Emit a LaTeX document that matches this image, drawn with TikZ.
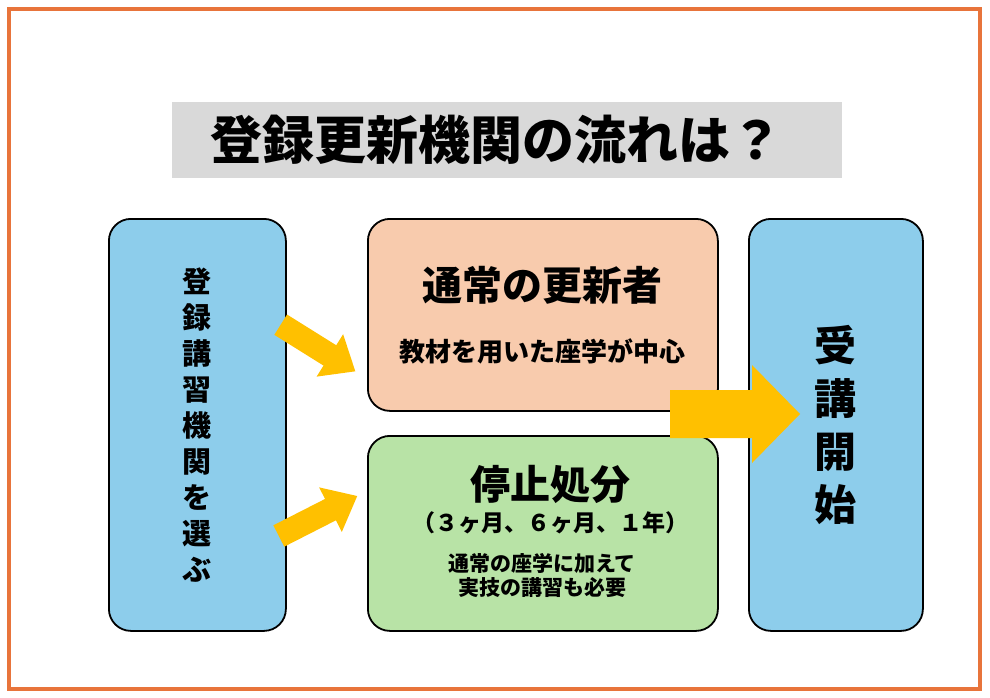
\documentclass[tikz,border=0pt]{standalone}
\usepackage{fontspec}
\setmainfont{Noto Sans CJK JP}
\definecolor{frame}{HTML}{E8743B}
\definecolor{sky}{HTML}{8DCDEB}
\definecolor{salmon}{HTML}{F8CBAD}
\definecolor{leaf}{HTML}{B8E3A6}
\definecolor{gold}{HTML}{FFC000}
\definecolor{titlebg}{HTML}{D9D9D9}
\tikzset{
  box/.style={draw=black, line width=1.8pt, rounded corners=22pt, anchor=north west, inner sep=0pt},
  fatarrow/.pic={\fill[gold] (-44,-12) -- (14,-12) -- (14,-25) -- (44,0) -- (14,25) -- (14,12) -- (-44,12) -- cycle;},
}
\begin{document}
\begin{tikzpicture}[x=1pt,y=-1pt]
\useasboundingbox (0,0) rectangle (990,698);
\draw[frame, line width=4pt] (9,9) rectangle (980,689);
\node[fill=titlebg, minimum width=670pt, minimum height=75pt, font=\fontsize{52}{56}\selectfont\bfseries] (title) at (507,140) {\hspace{-22pt}登録更新機関の流れは？};
\node[box, fill=sky, minimum width=177pt, minimum height=412pt] (left) at (108,218) {};
\node[align=center, font=\fontsize{29}{36}\selectfont\bfseries] (lt) at (left.center) {登\\録\\講\\習\\機\\関\\を\\選\\ぶ};
\node[box, fill=salmon, minimum width=350pt, minimum height=192pt] (top) at (367,218) {};
\node[font=\fontsize{40}{44}\selectfont\bfseries] (t1) at (542,285) {通常の更新者};
\node[font=\fontsize{26}{28}\selectfont\bfseries] (t2) at (542,351) {教材を用いた座学が中心};
\node[box, fill=leaf, minimum width=350pt, minimum height=195pt] (bot) at (367,435) {};
\node[font=\fontsize{40}{44}\selectfont\bfseries] (b1) at (550,484) {停止処分};
\node[font=\fontsize{23}{26}\selectfont\bfseries] (b2) at (550,523) {（３ヶ月、６ヶ月、１年）};
\node[align=center, font=\fontsize{21}{24}\selectfont\bfseries] (b3) at (542,576) {通常の座学に加えて\\実技の講習も必要};
\node[box, fill=sky, minimum width=174pt, minimum height=412pt] (right) at (748,218) {};
\node[align=center, font=\fontsize{42}{53}\selectfont\bfseries] (rt) at (835,425) {受\\講\\開\\始};
\pic[rotate=-32] at (318,348) {fatarrow};
\pic[rotate=27] at (318,516) {fatarrow};
\fill[gold] (670,390) -- (752,390) -- (752,365) -- (800,414) -- (752,463) -- (752,438) -- (670,438) -- cycle;
\end{tikzpicture}
\end{document}
